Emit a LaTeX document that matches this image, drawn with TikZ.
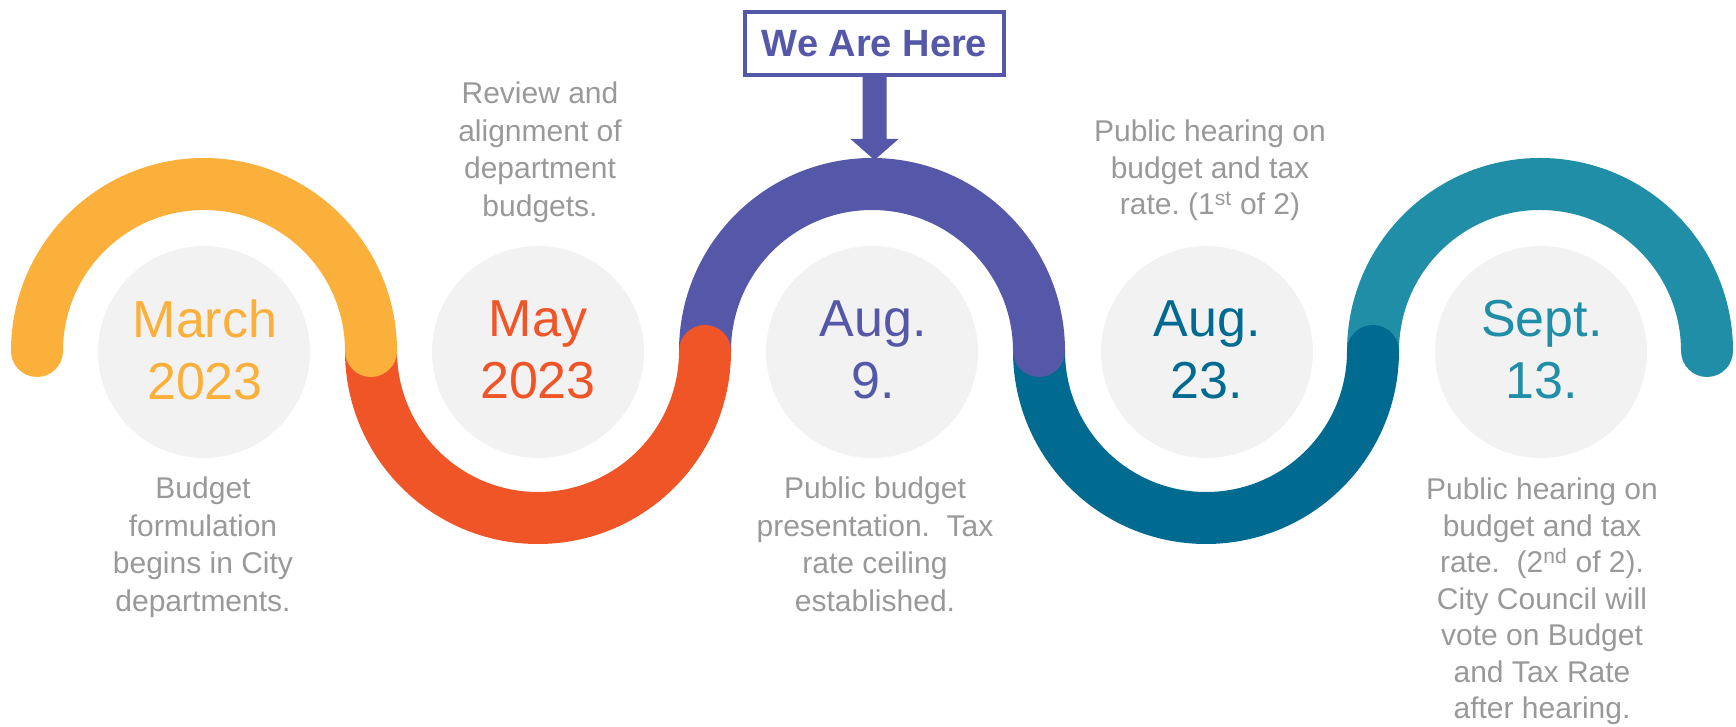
\documentclass[tikz,border=0pt]{standalone}
\usepackage{fontspec}
\setmainfont{Liberation Sans}
\usetikzlibrary{calc}
\frenchspacing

\definecolor{cOrange}{RGB}{251,176,59}
\definecolor{cRed}{RGB}{240,85,40}
\definecolor{cPurple}{RGB}{85,88,168}
\definecolor{cDeep}{RGB}{0,106,144}
\definecolor{cTeal}{RGB}{33,142,168}
\definecolor{cDisc}{RGB}{242,242,242}
\definecolor{cNote}{RGB}{153,153,153}

\tikzset{
  band/.style={line width=52pt, line cap=round},
  disc/.style={circle, fill=cDisc, minimum size=212pt, inner sep=0pt},
  datelbl/.style={align=center, font=\fontsize{52}{62}\selectfont, inner sep=0pt},
  note/.style={align=center, text=cNote, inner sep=0pt, anchor=north},
  notefont/.style={font=\fontsize{30}{37.5}\selectfont},
  notetight/.style={font=\fontsize{30}{36.5}\selectfont},
  herebox/.style={draw=cPurple, line width=4pt, fill=white,
    minimum width=259pt, minimum height=63pt, inner sep=0pt,
    text=cPurple, font=\fontsize{38}{44}\selectfont\bfseries}
}

\begin{document}
\begin{tikzpicture}[x=1pt,y=1pt]
\useasboundingbox (0,0) rectangle (1736,727);

% winding timeline band, drawn right to left so each cap overlaps the next
\draw[band,cTeal]   (1373,376) arc[start angle=180,end angle=0,radius=167];
\draw[band,cDeep]   (1039,376) arc[start angle=180,end angle=360,radius=167];
\draw[band,cPurple] (705,376)  arc[start angle=180,end angle=0,radius=167];
\draw[band,cRed]    (371,376)  arc[start angle=180,end angle=360,radius=167];
\draw[band,cOrange] (37,376)   arc[start angle=180,end angle=0,radius=167];

% date discs
\node[disc] (d1) at (204,375) {};
\node[disc] (d2) at (538,375) {};
\node[disc] (d3) at (872,375) {};
\node[disc] (d4) at (1207,375) {};
\node[disc] (d5) at (1541,375) {};

\node[datelbl,text=cOrange] (t1) at (205,377)  {March\\2023};
\node[datelbl,text=cRed]    (t2) at (538,377)  {May\\2023};
\node[datelbl,text=cPurple] (t3) at (873,377)  {Aug.\\9.};
\node[datelbl,text=cDeep]   (t4) at (1207,377) {Aug.\\23.};
\node[datelbl,text=cTeal]   (t5) at (1542,377) {Sept.\\13.};

% milestone descriptions
\node[note,notefont]  (n2) at (540,645)  {Review and\\alignment of\\department\\budgets.};
\node[note,notetight] (n4) at (1210,607) {Public hearing on\\budget and tax\\rate. (1\textsuperscript{st} of 2)};
\node[note,notefont]  (n1) at (203,250)  {Budget\\formulation\\begins in City\\departments.};
\node[note,notefont]  (n3) at (875,250)  {Public budget\\presentation.~ Tax\\rate ceiling\\established.};
\node[note,notetight] (n5) at (1542,249) {Public hearing on\\budget and tax\\rate.~ (2\textsuperscript{nd} of 2).\\City Council will\\vote on Budget\\and Tax Rate\\after hearing.};

% current-position marker
\node[herebox] (here) at (874.5,683.5) {We Are Here};
\coordinate (tip) at (874.5,567);
\fill[cPurple] ($(here.south)+(-12,0)$) -- ($(here.south)+(12,0)$)
  -- ($(tip)+(12,21)$) -- ($(tip)+(24,21)$) -- (tip)
  -- ($(tip)+(-24,21)$) -- ($(tip)+(-12,21)$) -- cycle;
\end{tikzpicture}
\end{document}
